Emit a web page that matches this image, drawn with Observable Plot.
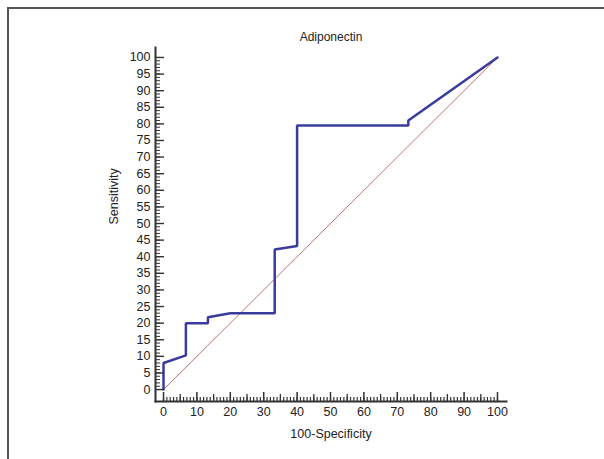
<!DOCTYPE html>
<html><head><meta charset="utf-8">
<script src="https://cdn.jsdelivr.net/npm/d3@7"></script>
<script src="https://cdn.jsdelivr.net/npm/@observablehq/plot@0.6"></script>
<style>
html,body{margin:0;padding:0;background:#fff;}
#wrap{position:relative;width:604px;height:459px;overflow:hidden;}
#border{position:absolute;left:7px;top:7px;width:620px;height:470px;border-top:2px solid #555;border-left:2px solid #555;box-sizing:border-box;pointer-events:none;}
svg{font-family:"Liberation Sans",Arial,sans-serif;}
</style></head>
<body><div id="wrap"><div id="border"></div></div>
<script>
const title = "Adiponectin";
const xLabel = "100-Specificity";
const yLabel = "Sensitivity";
const fpr = [0, 0, 6.7, 6.7, 13.3, 13.3, 20, 33.3, 33.3, 40, 40, 73.3, 73.3, 100];
const tpr = [0, 8, 10.3, 20, 20, 21.8, 23, 23, 42.2, 43.2, 79.5, 79.5, 81, 100];
const diagX = [0, 100];
const diagY = [0, 100];
const yTicks = [0,5,10,15,20,25,30,35,40,45,50,55,60,65,70,75,80,85,90,95,100];
const xTicks = [0,10,20,30,40,50,60,70,80,90,100];
const xMid = [5,15,25,35,45,55,65,75,85,95];
const minorTicks = d3.range(0, 101, 1);

const roc = fpr.map((x, i) => ({x, y: tpr[i]}));
const diag = diagX.map((x, i) => ({x, y: diagY[i]}));
const ink = "#222";

const chart = Plot.plot({
  width: 604, height: 459,
  marginLeft: 155, marginRight: 98, marginTop: 47, marginBottom: 58,
  x: {domain: [-2.4, 102.7], label: null},
  y: {domain: [-3.6, 103], label: null},
  style: {fontFamily: '"Liberation Sans", Arial, sans-serif', fontSize: "12px", color: ink, background: "transparent"},
  marks: [
    Plot.line(diag, {x: "x", y: "y", stroke: "#b85a5a", strokeWidth: 1, strokeOpacity: 0.85}),
    Plot.line(roc, {x: "x", y: "y", stroke: "#3b3b9f", strokeWidth: 2.5, strokeLinejoin: "miter"}),
    Plot.axisY(minorTicks, {anchor: "left", tickSize: -5, tickFormat: () => "", stroke: "#333"}),
    Plot.axisY(yTicks, {anchor: "left", tickSize: -9, tickFormat: () => "", stroke: "#333", strokeWidth: 1.4}),
    Plot.axisY(yTicks, {anchor: "left", tickSize: 0, tickPadding: 5, fill: ink, fontSize: 12.5}),
    Plot.axisX(minorTicks, {anchor: "bottom", tickSize: -4, tickFormat: () => "", stroke: "#333", strokeWidth: 1.2}),
    Plot.axisX(xMid, {anchor: "bottom", tickSize: -7, tickFormat: () => "", stroke: "#333", strokeWidth: 1.3}),
    Plot.axisX(xTicks, {anchor: "bottom", tickSize: -9, tickFormat: () => "", stroke: "#333", strokeWidth: 1.5}),
    Plot.axisX(xTicks, {anchor: "bottom", tickSize: 0, tickPadding: 6, fill: ink, fontSize: 12.5}),
    Plot.frame({anchor: "left", stroke: "#333", strokeWidth: 2}),
    Plot.frame({anchor: "bottom", stroke: "#333", strokeWidth: 2}),
    Plot.text([title], {frameAnchor: "top", dy: -10, lineAnchor: "middle", text: d => d, fill: ink, fontSize: 12}),
    Plot.text([xLabel], {frameAnchor: "bottom", dy: 32, lineAnchor: "middle", text: d => d, fill: ink, fontSize: 12.5}),
    Plot.text([yLabel], {frameAnchor: "left", dx: -42, rotate: -90, text: d => d, fill: ink, fontSize: 12.5})
  ]
});
document.getElementById("wrap").appendChild(chart);
chart.style.position = "absolute";
chart.style.left = "0";
chart.style.top = "0";
</script>
</body></html>
